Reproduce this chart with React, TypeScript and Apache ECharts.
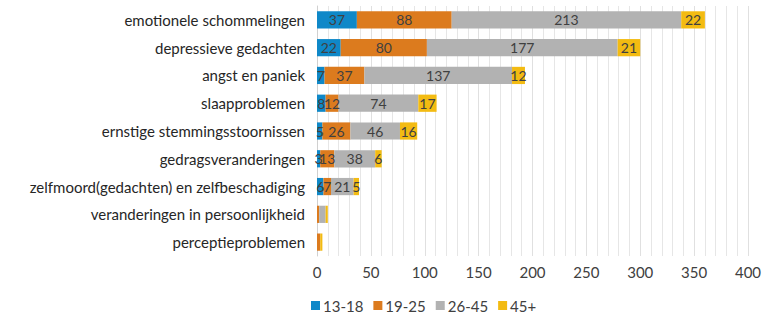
import React, { useEffect, useRef } from "react";
import * as echarts from "echarts";

const categories = [
  "emotionele schommelingen",
  "depressieve gedachten",
  "angst en paniek",
  "slaapproblemen",
  "ernstige stemmingsstoornissen",
  "gedragsveranderingen",
  "zelfmoord(gedachten) en zelfbeschadiging",
  "veranderingen in persoonlijkheid",
  "perceptieproblemen",
];
const seriesNames = ["13-18", "19-25", "26-45", "45+"];
const age13_18 = [37, 22, 7, 8, 5, 3, 6, 0, 0];
const age19_25 = [88, 80, 37, 12, 26, 13, 7, 2, 3];
const age26_45 = [213, 177, 137, 74, 46, 38, 21, 6, 0];
const age45plus = [22, 21, 12, 17, 16, 6, 5, 2, 2];
const colors = ["#0f88c8", "#dc7b1e", "#b2b2b2", "#f3bb12"];
const xTicks = [0, 50, 100, 150, 200, 250, 300, 350, 400];

const FONT = "Lato";

export default function App() {
  const ref = useRef<HTMLDivElement>(null);
  useEffect(() => {
    if (!ref.current) return;
    const chart = echarts.init(ref.current, undefined, { renderer: "svg" });
    const all = [age13_18, age19_25, age26_45, age45plus];
    const totals = categories.map((_, i) => all.reduce((s, a) => s + a[i], 0));
    chart.setOption({
      animation: false,
      textStyle: { fontFamily: FONT },
      grid: { left: 317, right: 36, top: 6, bottom: 71, containLabel: false },
      legend: {
        bottom: 9,
        left: 306,
        itemWidth: 9,
        itemHeight: 9,
        itemGap: 10,
        icon: "rect",
        textStyle: { fontSize: 15, color: "#404040", fontFamily: FONT, padding: [0, 0, 0, -2] },
        data: seriesNames,
      },
      xAxis: {
        type: "value",
        min: 0,
        max: xTicks[xTicks.length - 1],
        interval: 50,
        axisLine: { show: false },
        axisTick: { show: false },
        axisLabel: { color: "#404040", fontSize: 15, margin: 8 },
        splitLine: { show: true, lineStyle: { color: "#e0e0e0", width: 1 } },
        minorTick: { show: false, splitNumber: 5 },
        minorSplitLine: { show: true, lineStyle: { color: "#e6e6e6", width: 1 } },
      },
      yAxis: {
        type: "category",
        data: categories,
        inverse: true,
        axisTick: { show: false },
        axisLine: { show: true, lineStyle: { color: "#d0d0d0" } },
        axisLabel: { color: "#262626", fontSize: 15, margin: 12 },
      },
      series: seriesNames.map((name, si) => ({
        name,
        type: "bar",
        stack: "total",
        barCategoryGap: "38%",
        itemStyle: { color: colors[si] },
        label: {
          show: true,
          position: "inside",
          color: "#404040",
          fontSize: 14,
          fontFamily: FONT,
        },
        data: all[si].map((v, i) => ({
          value: v,
          label: { show: totals[i] >= 15 && v > 0 },
        })),
      })),
    });
    return () => chart.dispose();
  }, []);
  return <div ref={ref} style={{ width: 784, height: 327, position: "absolute", left: 0, top: 0 }} />;
}
